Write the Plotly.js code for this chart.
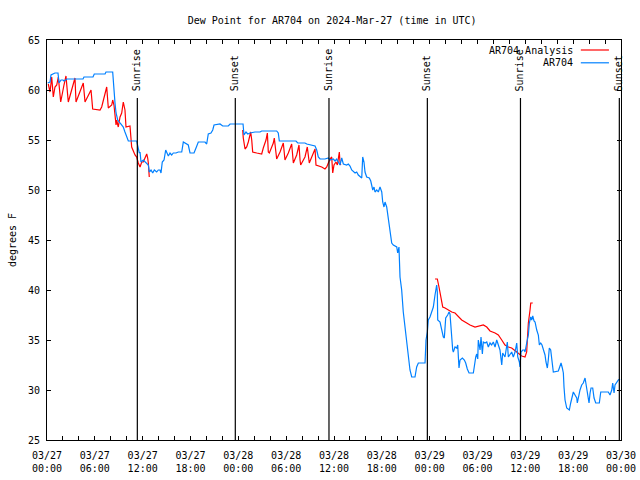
<!DOCTYPE html>
<html>
<head>
<meta charset="utf-8">
<script src="https://cdn.plot.ly/plotly-3.0.1.min.js"></script>
<style>html,body{margin:0;padding:0;background:#fff;}#chart{width:640px;height:480px;}</style>
</head>
<body>
<div id="chart"></div>
<script>
// Hours after 2024-03-27 00:00 UTC
const obsHours = [0.09,0.38,0.50,1.00,1.38,1.51,1.76,2.01,2.13,2.51,4.52,4.64,5.77,5.93,7.28,7.40,8.24,8.40,8.53,8.66,8.87,9.16,9.57,9.78,10.00,10.20,11.25,11.38,11.58,11.67,11.79,12.08,12.51,12.71,12.83,13.05,13.26,13.46,13.76,13.96,14.17,14.30,14.46,14.68,14.89,15.02,15.22,15.43,15.64,15.84,16.18,16.47,16.90,17.10,17.52,17.72,17.94,18.44,18.69,18.98,19.82,20.03,20.23,20.57,20.79,20.95,21.70,22.04,22.74,22.96,24.59,24.71,24.96,25.18,25.46,26.09,26.72,26.93,28.81,29.01,29.14,31.23,31.45,32.36,32.58,33.62,33.83,34.03,34.25,34.87,35.29,35.50,35.91,36.13,36.34,36.75,36.97,37.17,37.59,37.80,38.01,38.22,38.64,38.85,39.05,39.26,39.48,39.60,39.76,39.89,40.10,40.43,40.61,40.86,41.02,41.14,41.36,41.56,41.77,41.99,42.11,42.27,42.40,42.61,42.81,43.03,43.24,43.44,43.87,43.99,44.15,44.28,44.49,44.69,44.91,45.12,45.32,45.53,45.75,46.16,46.37,46.58,47.42,47.54,47.71,47.83,48.04,48.26,48.46,48.67,48.80,48.88,48.96,49.01,49.30,49.71,49.84,50.01,50.26,50.43,50.55,50.68,50.77,50.89,50.97,51.18,51.39,51.52,51.60,51.68,51.81,52.10,52.35,52.52,52.72,52.94,53.48,53.60,53.78,53.90,54.03,54.10,54.32,54.44,54.61,54.73,54.94,55.16,55.36,55.57,55.78,55.98,56.20,56.41,56.61,56.82,57.04,57.16,57.45,57.58,57.74,57.87,58.08,58.29,58.49,58.71,58.92,59.05,59.25,59.33,59.46,59.67,59.87,59.96,60.17,60.38,60.50,60.68,60.80,60.93,61.09,61.22,61.43,61.63,61.76,61.93,62.09,62.26,62.47,62.59,62.76,62.88,63.01,63.18,63.31,63.43,63.51,64.14,64.35,64.48,64.64,64.77,64.85,64.98,65.19,65.52,65.69,65.82,66.02,66.23,66.45,66.52,66.65,66.86,67.07,67.27,67.49,67.61,67.83,67.99,68.12,68.24,68.45,68.62,68.83,69.28,69.46,70.41,70.62,70.84,70.96,71.13,71.25,71.47,71.67,71.88];
const obsDewF = [60.7,60.8,61.5,61.7,61.7,60.7,61.0,61.0,60.9,61.1,61.1,61.3,61.3,61.6,61.6,61.8,61.8,59.3,58.7,57.7,57.0,56.7,56.3,55.8,55.3,54.9,54.9,54.5,53.7,53.8,52.8,53.0,52.7,52.5,51.8,52.0,51.7,52.0,51.8,52.0,52.0,51.7,52.8,53.0,54.0,53.8,53.4,53.7,53.5,53.7,53.7,53.8,53.8,54.8,54.6,54.5,53.7,53.7,54.2,54.8,54.8,54.6,55.6,55.7,56.0,56.5,56.6,56.4,56.4,56.6,56.6,55.5,55.8,55.6,55.7,55.8,55.8,55.9,55.9,55.7,54.9,54.9,54.7,54.7,54.6,54.4,54.0,53.3,53.1,53.1,53.2,53.0,53.1,52.9,53.1,52.5,53.2,52.6,52.5,52.6,52.4,52.0,51.7,51.8,51.5,51.3,51.2,53.3,52.8,51.8,51.3,51.2,50.9,50.0,50.3,49.8,50.0,49.8,50.3,49.8,48.8,48.3,48.8,48.3,47.3,46.0,44.7,44.5,44.3,43.7,44.3,41.3,40.0,37.8,36.3,35.0,33.8,32.0,31.3,31.3,32.3,32.7,32.7,35.0,35.8,37.0,37.3,37.8,38.3,39.5,40.2,40.5,39.8,37.0,36.8,35.3,35.2,37.2,37.5,37.8,37.6,36.0,35.0,34.0,33.8,34.3,34.2,34.5,33.3,32.2,33.0,33.2,33.0,32.7,32.1,31.7,31.7,32.5,33.3,33.6,33.1,35.0,34.0,35.3,33.6,34.8,34.7,34.8,34.3,34.7,34.5,34.8,34.3,35.0,34.5,34.0,32.5,33.7,33.3,34.0,34.8,33.3,33.5,33.8,33.3,33.8,34.7,33.3,32.8,32.3,33.8,34.0,34.0,33.8,34.7,35.5,36.7,37.3,37.0,37.4,36.9,36.8,36.0,35.5,34.5,34.7,34.5,34.0,33.5,32.8,32.2,33.0,34.2,34.0,33.3,32.3,31.8,31.9,32.3,32.7,32.2,31.7,30.3,29.0,28.2,28.0,28.7,29.2,29.8,29.5,29.2,28.7,29.3,30.0,30.5,30.7,31.2,30.5,29.2,28.7,29.7,30.2,30.2,29.2,28.7,28.7,29.8,29.8,29.5,30.0,30.7,29.7,30.5,30.8,31.0,31.1];

// Analysis series (null = gap between analysis windows)
const anaHours = [0.16,0.38,0.59,0.79,1.00,1.22,1.42,1.72,2.13,2.38,2.67,3.30,3.51,3.64,4.35,4.55,4.77,5.39,5.52,5.73,6.65,6.86,7.40,7.49,7.69,8.12,8.24,8.40,8.66,8.74,8.94,9.16,9.37,9.57,9.78,9.91,10.41,10.50,10.62,11.04,11.25,11.45,11.67,11.88,12.08,12.29,12.51,12.63,12.71,12.83,null,
24.55,24.62,24.84,25.05,25.25,25.46,25.55,25.68,25.80,26.31,26.93,27.13,27.47,27.64,27.76,27.89,28.19,28.39,28.51,28.81,29.23,29.44,29.64,29.85,30.27,30.69,30.90,31.32,31.61,31.74,31.82,32.36,32.65,32.90,33.20,33.62,33.74,34.46,34.87,35.09,35.29,35.50,35.71,35.84,36.00,36.25,36.42,36.54,36.67,36.75,36.84,null,
48.67,48.96,49.17,49.39,49.64,49.93,50.34,50.77,51.18,51.60,52.02,52.65,53.06,53.69,54.23,54.73,55.16,55.57,56.20,56.61,57.04,57.45,57.87,58.29,58.92,59.55,59.96,60.17,60.25,60.38,60.59,60.68,60.93];
const anaDewF = [60.6,59.8,61.3,59.3,60.3,60.5,61.3,58.8,60.5,61.4,58.8,60.7,61.2,58.8,60.3,60.7,58.8,59.8,60.0,58.1,58.0,58.3,59.8,60.3,58.2,58.5,59.0,58.5,56.5,57.0,56.3,57.3,57.7,58.8,58.0,56.3,56.4,55.7,54.3,53.5,53.3,52.7,52.3,52.8,52.8,53.2,53.6,53.2,52.7,51.3,null,
56.0,55.2,54.1,54.3,54.8,55.5,55.8,55.0,53.8,53.7,53.6,54.2,55.0,55.7,53.8,53.7,54.2,54.7,55.2,53.1,53.8,54.3,54.7,53.0,53.7,54.6,52.7,53.5,54.5,53.0,52.5,53.3,54.3,52.7,53.3,54.1,52.5,52.3,52.1,52.3,52.7,53.1,53.3,51.7,52.5,52.8,52.5,53.5,53.8,52.8,52.5,null,
41.1,41.1,40.3,39.5,38.3,38.2,38.0,37.8,37.7,37.4,37.0,36.7,36.5,36.3,36.4,36.5,36.3,35.9,35.7,35.5,35.0,34.5,34.3,34.2,33.8,33.4,33.3,33.8,35.0,36.7,38.0,38.7,38.7];

// Sun events (hours after 03/27 00:00 UTC)
const sunHours = [11.33, 23.62, 35.37, 47.71, 59.39, 71.79];
const sunLabels = ['Sunrise', 'Sunset', 'Sunrise', 'Sunset', 'Sunrise', 'Sunset'];

// Axis ticks
const tickHours = [0,2,4,6,8,10,12,14,16,18,20,22,24,26,28,30,32,34,36,38,40,42,44,46,48,50,52,54,56,58,60,62,64,66,68,70,72];
const labelHours = [0,6,12,18,24,30,36,42,48,54,60,66,72];
const labelDates = ['03/27','03/27','03/27','03/27','03/28','03/28','03/28','03/28','03/29','03/29','03/29','03/29','03/30'];
const labelTimes = ['00:00','06:00','12:00','18:00','00:00','06:00','12:00','18:00','00:00','06:00','12:00','18:00','00:00'];
const yTicks = [25,30,35,40,45,50,55,60,65];

const seriesNames = ['AR704 Analysis', 'AR704'];
const seriesColors = ['#ff0000', '#0080ff'];

const FONT = 'DejaVu Sans Mono, Liberation Mono, monospace';

const tickText = tickHours.map(h => {
  const i = labelHours.indexOf(h);
  return i >= 0 ? labelDates[i] + '<br>' + labelTimes[i] : '';
});

const traces = [
  {x: anaHours, y: anaDewF, type: 'scatter', mode: 'lines', name: seriesNames[0],
   line: {color: seriesColors[0], width: 1.2}, connectgaps: false, hoverinfo: 'skip'},
  {x: obsHours, y: obsDewF, type: 'scatter', mode: 'lines', name: seriesNames[1],
   line: {color: seriesColors[1], width: 1.2}, hoverinfo: 'skip'}
];

const shapes = sunHours.map(h => ({
  type: 'line', xref: 'x', yref: 'paper', x0: h, x1: h, y0: 0, y1: 0.855,
  line: {color: '#000', width: 1.2}, layer: 'above'
}));
const annotations = sunHours.map((h, i) => ({
  x: h, xref: 'x', y: 0.8675, yref: 'paper', text: sunLabels[i], showarrow: false,
  textangle: -90, xanchor: 'center', yanchor: 'bottom',
  font: {family: FONT, size: 10, color: '#000'}
}));

// legend (gnuplot style: text then sample line at right)
const legY = [0.975, 0.943];
seriesNames.forEach((n, i) => {
  annotations.push({x: 0.92, xref: 'paper', y: legY[i], yref: 'paper', text: n, showarrow: false,
    xanchor: 'right', yanchor: 'middle', font: {family: FONT, size: 10, color: '#000'}});
  shapes.push({type: 'line', xref: 'paper', yref: 'paper', x0: 0.930, x1: 0.979, y0: legY[i], y1: legY[i],
    line: {color: seriesColors[i], width: 1.2}});
});

const axisCommon = {
  showgrid: false, zeroline: false, showline: true, linecolor: '#000', linewidth: 1,
  mirror: 'allticks', ticks: 'inside', ticklen: 4, tickcolor: '#000', tickwidth: 1,
  tickfont: {family: FONT, size: 10, color: '#000'}
};

const layout = {
  width: 640, height: 480,
  margin: {l: 47, r: 19, t: 40, b: 40},
  paper_bgcolor: '#fff', plot_bgcolor: '#fff',
  showlegend: false,
  title: {text: 'Dew Point for AR704 on 2024-Mar-27 (time in UTC)', x: 0.519, xanchor: 'center',
          y: 0.958, yanchor: 'middle', font: {family: FONT, size: 10, color: '#000'}},
  xaxis: Object.assign({}, axisCommon, {
    range: [0, 72], tickmode: 'array', tickvals: tickHours, ticktext: tickText, ticklabelstandoff: 6
  }),
  yaxis: Object.assign({}, axisCommon, {
    range: [25, 65], tickmode: 'array', tickvals: yTicks, ticktext: yTicks.map(String),
    ticklabelstandoff: 4,
    title: {text: 'degrees F', font: {family: FONT, size: 10, color: '#000'}, standoff: 9}
  }),
  shapes: shapes,
  annotations: annotations
};

Plotly.newPlot('chart', traces, layout, {staticPlot: true, displayModeBar: false});
</script>
</body>
</html>
